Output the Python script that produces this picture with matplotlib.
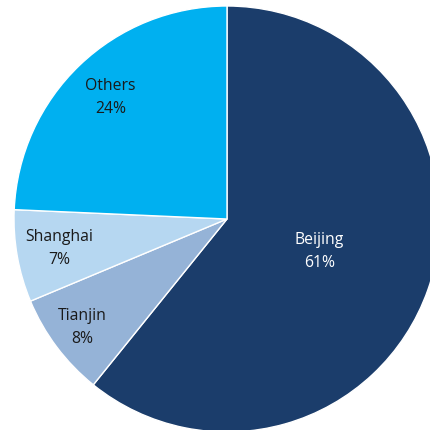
import numpy as np
import matplotlib.pyplot as plt

# --- DATA ---
cities = ["Beijing", "Tianjin", "Shanghai", "Others"]
shares = [60.8, 7.9, 7.0, 24.3]
colors = ["#1B3D6B", "#95B3D7", "#B6D7F1", "#00B0F0"]
text_colors = ["white", "#1A1A1A", "#1A1A1A", "#1A1A1A"]
label_radius = [0.46, 0.85, 0.80, 0.79]

plt.rcParams['font.family'] = ['Open Sans', 'DejaVu Sans']

fig = plt.figure(figsize=(4.31, 4.30), dpi=100)
ax = fig.add_axes([0, 0, 1, 1])

wedges, _ = ax.pie(shares, colors=colors, startangle=90, counterclock=False,
                   radius=1.0, wedgeprops=dict(edgecolor="white", linewidth=1.0))

# put each label at the middle angle of its wedge
for w, name, val, tc, r in zip(wedges, cities, shares, text_colors, label_radius):
    ang = np.deg2rad((w.theta1 + w.theta2) / 2)
    ax.text(r * np.cos(ang), r * np.sin(ang), f"{name}\n{val:.0f}%",
            ha="center", va="center", color=tc, fontsize=11.3, linespacing=1.6)

# pie centre at pixel (227, 219), radius 213 px
R = 213.0
ax.set_xlim(-227 / R, (431 - 227) / R)
ax.set_ylim(-(430 - 219) / R, 219 / R)
ax.set_aspect("auto")
ax.axis("off")

fig.savefig("out.png", dpi=100)
